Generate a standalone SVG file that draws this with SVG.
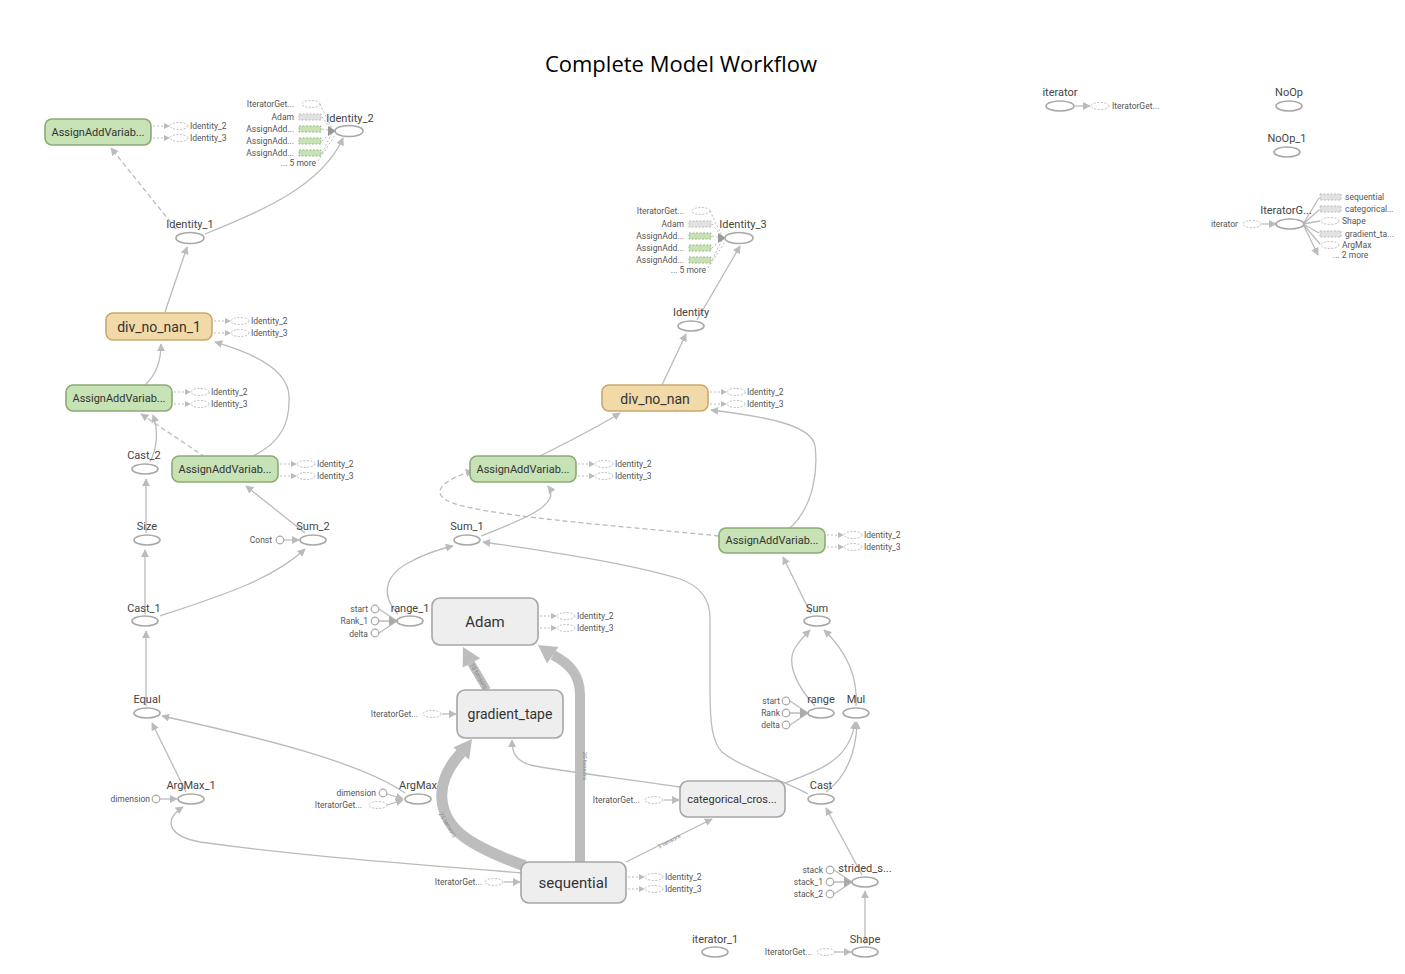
<svg xmlns="http://www.w3.org/2000/svg" xmlns:xlink="http://www.w3.org/1999/xlink" width="1405" height="974" viewBox="0 0 1405 974">
<style>
.t{font-family:Roboto,"Liberation Sans",sans-serif;fill:#444;font-size:11px;text-anchor:middle}
.s{font-family:Roboto,"Liberation Sans",sans-serif;fill:#555;font-size:8.5px}
.r{text-anchor:end}
.el{font-family:Roboto,"Liberation Sans",sans-serif;fill:#888;font-size:6px;text-anchor:middle}
.op{fill:#fff;stroke:#a8a8a8;stroke-width:1.6}
.c{fill:#fff;stroke:#a8a8a8;stroke-width:1.2}
.de{fill:#fff;stroke:#bbb;stroke-width:1;stroke-dasharray:2 1.5}
.e{fill:none;stroke:#bbb;stroke-width:1.3}
.d{stroke-dasharray:5 3}
.dt{fill:none;stroke:#bbb;stroke-width:1;stroke-dasharray:2 2}
.thk{fill:none;stroke:#bdbdbd}
.ah{fill:#bdbdbd}
.g rect{fill:#c7e2b5;stroke:#8caa75;stroke-width:1.6}
.y rect{fill:#f2d9a8;stroke:#c8a96f;stroke-width:1.6}
.m rect{fill:#eeeeee;stroke:#a6a6a6;stroke-width:1.6}
.nt{font-family:Roboto,"Liberation Sans",sans-serif;fill:#333;font-size:11px;text-anchor:middle}
.big{font-size:15px}
.mid{font-size:14px}
.gd{fill:#c7e2b5;stroke:#99b886;stroke-width:1;stroke-dasharray:2 1.5}
.gg{fill:#e2e2e2;stroke:#bbb;stroke-width:1;stroke-dasharray:2 1.5}
</style>
<defs>
<marker id="a" viewBox="0 0 10 10" refX="9" refY="5" markerWidth="8" markerHeight="8" orient="auto" markerUnits="userSpaceOnUse"><path d="M0,0L10,5L0,10z" fill="#bbb"/></marker>
<g id="idann">
<path d="M2,-6H13M2,6H13" class="dt"/>
<path d="M13,-9L19,-6L13,-3zM13,3L19,6L13,9z" fill="#bbb"/>
<ellipse cx="28" cy="-6" rx="9" ry="3.5" class="de"/>
<ellipse cx="28" cy="6" rx="9" ry="3.5" class="de"/>
<text x="39" y="-3" class="s">Identity_2</text>
<text x="39" y="9" class="s">Identity_3</text>
</g>
<g id="inlist">
<text x="-55" y="-24" class="s r">IteratorGet...</text>
<text x="-55" y="-11" class="s r">Adam</text>
<text x="-55" y="1" class="s r">AssignAdd...</text>
<text x="-55" y="13" class="s r">AssignAdd...</text>
<text x="-55" y="25" class="s r">AssignAdd...</text>
<text x="-33" y="35" class="s r">... 5 more</text>
<ellipse cx="-38" cy="-27" rx="9" ry="3.5" class="de"/>
<rect x="-50" y="-17" width="22" height="6" class="gg"/>
<rect x="-50" y="-5" width="22" height="6" class="gd"/>
<rect x="-50" y="7" width="22" height="6" class="gd"/>
<rect x="-50" y="19" width="22" height="6" class="gd"/>
<path d="M-29,-27L-16,0M-27,-14L-16,0M-27,-2L-16,0M-27,10L-16,0M-27,22L-16,0M-31,30L-14,4" class="dt" stroke="#aaa"/>
<path d="M-21,-5L-13,0L-21,5z" fill="#999"/>
</g>
<g id="ins3">
<path d="M-31,-12L-13,0M-31,0L-13,0M-31,12L-13,0" class="e" stroke-width="1.1"/>
<path d="M-21,-5L-13,0L-21,5z" fill="#aaa"/>
<circle cx="-35" cy="-12" r="3.8" class="c"/>
<circle cx="-35" cy="0" r="3.8" class="c"/>
<circle cx="-35" cy="12" r="3.8" class="c"/>
</g>
</defs>

<text x="681" y="72" font-family="'Open Sans','Noto Sans',sans-serif" font-size="22" fill="#000" text-anchor="middle">Complete Model Workflow</text>

<g id="connectors">
<path class="e" marker-end="url(#a)" d="M205,234C260,212 322,186 343,138"/>
<path class="e d" marker-end="url(#a)" d="M176,229L111,148"/>
<path class="e" marker-end="url(#a)" d="M165,312L187,247"/>
<path class="e" marker-end="url(#a)" d="M145,385C156,375 161,360 161,344"/>
<path class="e" marker-end="url(#a)" d="M253,456C282,442 290,422 289,396C288,368 250,352 215,342"/>
<path class="e d" marker-end="url(#a)" d="M205,457L141,414"/>
<path class="e" marker-end="url(#a)" d="M150,462C158,446 158,430 153,415"/>
<path class="e" marker-end="url(#a)" d="M146,533L146,479"/>
<path class="e" marker-end="url(#a)" d="M145,614L145,550"/>
<path class="e" marker-end="url(#a)" d="M160,616C220,596 272,580 305,549"/>
<path class="e" marker-end="url(#a)" d="M284,540L299,540"/>
<path class="e" marker-end="url(#a)" d="M305,533L246,486"/>
<path class="e" marker-end="url(#a)" d="M146,706L146,631"/>
<path class="e" marker-end="url(#a)" d="M186,792L152,723"/>
<path class="e" marker-end="url(#a)" d="M405,793C360,762 262,738 162,716"/>
<path class="e" marker-end="url(#a)" d="M522,873C400,863 300,856 200,842C168,836 163,820 183,807"/>
<path class="e" marker-end="url(#a)" d="M160,799L177,799"/>
<path class="e" marker-end="url(#a)" d="M387,794L403,799"/>
<path class="e" marker-end="url(#a)" d="M387,805L403,800"/>
<path class="e" marker-end="url(#a)" d="M398,614C381,596 384,576 408,563C424,554 440,549 453,546"/>
<path class="e" marker-end="url(#a)" d="M481,536C522,520 562,505 548,486"/>
<path class="e d" marker-end="url(#a)" d="M719,536C620,526 470,515 446,500C430,490 448,478 473,471"/>
<path class="e" marker-end="url(#a)" d="M808,794C780,779 740,767 722,752C712,742 710,722 710,690L710,618C710,598 700,586 680,579C620,561 530,549 483,542"/>
<path class="e" marker-end="url(#a)" d="M540,456C570,441 600,426 620,413"/>
<path class="e" marker-end="url(#a)" d="M790,528C814,506 818,470 815,446C812,424 760,416 711,410"/>
<path class="e" marker-end="url(#a)" d="M662,385L686,334"/>
<path class="e" marker-end="url(#a)" d="M697,320L740,246"/>
<path class="e" marker-end="url(#a)" d="M811,614L783,557"/>
<path class="e" marker-end="url(#a)" d="M815,706C800,690 785,665 795,648C800,640 805,635 810,630"/>
<path class="e" marker-end="url(#a)" d="M856,706C858,680 850,655 824,630"/>
<path class="e" marker-end="url(#a)" d="M826,792C842,780 856,760 857,722"/>
<path class="e" marker-end="url(#a)" d="M785,783C820,770 850,760 855,722"/>
<path class="e" marker-end="url(#a)" d="M862,875L826,808"/>
<path class="e" marker-end="url(#a)" d="M865,944L865,891"/>
<path class="e" marker-end="url(#a)" d="M834,952L851,952"/>
<path class="thk" stroke-width="8" d="M487,690L471,663"/>
<path class="ah" d="M463,647L480.3,658.2L462.7,667.6z"/>
<path class="thk" stroke-width="10" d="M580,862L580,695C580,675 570,664 553,655"/>
<path class="ah" d="M538,645L558.4,647.1L547,663.5z"/>
<path class="thk" stroke-width="11" d="M525,866C470,846 445,830 442,800C440,780 450,765 461,753"/>
<path class="ah" d="M472,739L469.2,759.4L453.2,747.4z"/>
<path class="e" marker-end="url(#a)" d="M626,862L712,819"/>
<path class="e" marker-end="url(#a)" d="M680,787C620,778 560,771 530,765C515,760 512,752 512,740"/>
<path class="e" marker-end="url(#a)" d="M442,714L456,714"/>
<path class="e" marker-end="url(#a)" d="M664,800L679,800"/>
<path class="e" marker-end="url(#a)" d="M504,882L520,882"/>
<path class="e" marker-end="url(#a)" d="M1075,106L1090,106"/>
<path class="e" marker-end="url(#a)" d="M1262,224L1276,224"/>
<path class="e" marker-end="url(#a)" d="M1303,224L1319,198M1303,224L1319,210M1303,224L1320,221M1303,224L1319,233M1303,224L1320,244M1303,224L1318,255"/>
<text class="el" transform="translate(477,677) rotate(60)">10 tensors</text>
<text class="el" transform="translate(583,766) rotate(90)">20 tensors</text>
<text class="el" transform="translate(446,826) rotate(58)">25 tensors</text>
<text class="el" transform="translate(670,843) rotate(-27)">3 tensors</text>
</g>

<g id="AssignAddVariable_a" class="g"><rect x="45" y="119" width="106" height="26" rx="7"/><text x="98" y="136" class="nt">AssignAddVariab...</text><use href="#idann" x="151" y="132"/></g>
<g id="Identity_2"><use href="#inlist" x="349" y="131"/><ellipse cx="349" cy="131" rx="14" ry="5.5" class="op"/><text x="350" y="122" class="t">Identity_2</text></g>
<g id="Identity_1"><ellipse cx="190" cy="238" rx="14" ry="5.5" class="op"/><text x="190" y="228" class="t">Identity_1</text></g>
<g id="div_no_nan_1" class="y"><rect x="106" y="313" width="106" height="27" rx="7"/><text x="159" y="332" class="nt mid">div_no_nan_1</text><use href="#idann" x="212" y="327"/></g>
<g id="AssignAddVariable_b" class="g"><rect x="66" y="385" width="106" height="26" rx="7"/><text x="119" y="402" class="nt">AssignAddVariab...</text><use href="#idann" x="172" y="398"/></g>
<g id="AssignAddVariable_c" class="g"><rect x="172" y="456" width="106" height="26" rx="7"/><text x="225" y="473" class="nt">AssignAddVariab...</text><use href="#idann" x="278" y="470"/></g>
<g id="Cast_2"><ellipse cx="145" cy="469" rx="13" ry="5" class="op"/><text x="144" y="459" class="t">Cast_2</text></g>
<g id="Size"><ellipse cx="147" cy="540" rx="13" ry="5" class="op"/><text x="147" y="530" class="t">Size</text></g>
<g id="Sum_2"><ellipse cx="313" cy="540" rx="13" ry="5" class="op"/><text x="313" y="530" class="t">Sum_2</text><circle cx="280" cy="540" r="3.8" class="c"/><text x="272" y="543" class="s r">Const</text></g>
<g id="Cast_1"><ellipse cx="145" cy="621" rx="13" ry="5" class="op"/><text x="144" y="612" class="t">Cast_1</text></g>
<g id="Equal"><ellipse cx="147" cy="713" rx="13" ry="5" class="op"/><text x="147" y="703" class="t">Equal</text></g>
<g id="ArgMax_1"><ellipse cx="191" cy="799" rx="13" ry="5" class="op"/><text x="191" y="789" class="t">ArgMax_1</text><circle cx="156" cy="799" r="3.8" class="c"/><text x="150" y="802" class="s r">dimension</text></g>
<g id="ArgMax"><ellipse cx="418" cy="799" rx="13" ry="5" class="op"/><text x="418" y="789" class="t">ArgMax</text><circle cx="383" cy="793" r="3.8" class="c"/><text x="376" y="796" class="s r">dimension</text><ellipse cx="378" cy="805" rx="9" ry="3.5" class="de"/><text x="362" y="808" class="s r">IteratorGet...</text></g>
<g id="range_1"><use href="#ins3" x="410" y="621"/><ellipse cx="410" cy="621" rx="13" ry="5" class="op"/><text x="410" y="612" class="t">range_1</text><text x="368" y="612" class="s r">start</text><text x="368" y="624" class="s r">Rank_1</text><text x="368" y="637" class="s r">delta</text></g>
<g id="Sum_1"><ellipse cx="467" cy="540" rx="13" ry="5" class="op"/><text x="467" y="530" class="t">Sum_1</text></g>
<g id="AssignAddVariable_d" class="g"><rect x="470" y="456" width="106" height="26" rx="7"/><text x="523" y="473" class="nt">AssignAddVariab...</text><use href="#idann" x="576" y="470"/></g>
<g id="div_no_nan" class="y"><rect x="602" y="385" width="106" height="26" rx="7"/><text x="655" y="404" class="nt mid">div_no_nan</text><use href="#idann" x="708" y="398"/></g>
<g id="Identity"><ellipse cx="691" cy="326" rx="13" ry="5" class="op"/><text x="691" y="316" class="t">Identity</text></g>
<g id="Identity_3"><use href="#inlist" x="739" y="238"/><ellipse cx="739" cy="238" rx="14" ry="5.5" class="op"/><text x="743" y="228" class="t">Identity_3</text></g>
<g id="AssignAddVariable_e" class="g"><rect x="719" y="528" width="106" height="25" rx="7"/><text x="772" y="544" class="nt">AssignAddVariab...</text><use href="#idann" x="825" y="541"/></g>
<g id="Sum"><ellipse cx="817" cy="621" rx="13" ry="5" class="op"/><text x="817" y="612" class="t">Sum</text></g>
<g id="range"><use href="#ins3" x="821" y="713"/><ellipse cx="821" cy="713" rx="13" ry="5" class="op"/><text x="821" y="703" class="t">range</text><text x="780" y="704" class="s r">start</text><text x="780" y="716" class="s r">Rank</text><text x="780" y="728" class="s r">delta</text></g>
<g id="Mul"><ellipse cx="856" cy="713" rx="13" ry="5" class="op"/><text x="856" y="703" class="t">Mul</text></g>
<g id="Cast"><ellipse cx="821" cy="799" rx="13" ry="5" class="op"/><text x="821" y="789" class="t">Cast</text></g>
<g id="strided_slice"><use href="#ins3" x="865" y="882"/><ellipse cx="865" cy="882" rx="13" ry="5" class="op"/><text x="865" y="872" class="t">strided_s...</text><text x="823" y="873" class="s r">stack</text><text x="823" y="885" class="s r">stack_1</text><text x="823" y="897" class="s r">stack_2</text></g>
<g id="Shape"><ellipse cx="865" cy="952" rx="13" ry="5" class="op"/><text x="865" y="943" class="t">Shape</text><ellipse cx="826" cy="952" rx="9" ry="3.5" class="de"/><text x="812" y="955" class="s r">IteratorGet...</text></g>
<g id="iterator_1"><ellipse cx="715" cy="952" rx="13" ry="5" class="op"/><text x="715" y="943" class="t">iterator_1</text></g>
<g id="Adam" class="m"><rect x="432" y="598" width="106" height="47" rx="8"/><text x="485" y="627" class="nt big">Adam</text><use href="#idann" x="538" y="622"/></g>
<g id="gradient_tape" class="m"><rect x="457" y="690" width="106" height="48" rx="8"/><text x="510" y="719" class="nt mid">gradient_tape</text><ellipse cx="432" cy="714" rx="9" ry="3.5" class="de"/><text x="418" y="717" class="s r">IteratorGet...</text></g>
<g id="categorical_crossentropy" class="m"><rect x="680" y="781" width="105" height="36" rx="8"/><text x="732" y="803" class="nt">categorical_cros...</text><ellipse cx="654" cy="800" rx="9" ry="3.5" class="de"/><text x="640" y="803" class="s r">IteratorGet...</text></g>
<g id="sequential" class="m"><rect x="521" y="862" width="105" height="41" rx="8"/><text x="573" y="888" class="nt big">sequential</text><ellipse cx="494" cy="882" rx="9" ry="3.5" class="de"/><text x="482" y="885" class="s r">IteratorGet...</text><use href="#idann" x="626" y="883"/></g>
<g id="iterator"><ellipse cx="1060" cy="106" rx="14" ry="5" class="op"/><text x="1060" y="96" class="t">iterator</text><ellipse cx="1100" cy="106" rx="9" ry="3.5" class="de"/><text x="1112" y="109" class="s">IteratorGet...</text></g>
<g id="NoOp"><ellipse cx="1289" cy="106" rx="13" ry="5" class="op"/><text x="1289" y="96" class="t">NoOp</text></g>
<g id="NoOp_1"><ellipse cx="1287" cy="152" rx="13" ry="5" class="op"/><text x="1287" y="142" class="t">NoOp_1</text></g>
<g id="IteratorGetNext"><ellipse cx="1290" cy="224" rx="14" ry="5" class="op"/><text x="1286" y="214" class="t">IteratorG...</text><ellipse cx="1252" cy="224" rx="9" ry="3.5" class="de"/><text x="1238" y="227" class="s r">iterator</text>
<rect x="1320" y="194" width="21" height="6" class="gg"/><text x="1345" y="200" class="s">sequential</text>
<rect x="1320" y="206" width="21" height="6" class="gg"/><text x="1345" y="212" class="s">categorical...</text>
<ellipse cx="1330" cy="221" rx="9" ry="3.5" class="de"/><text x="1342" y="224" class="s">Shape</text>
<rect x="1320" y="231" width="21" height="6" class="gg"/><text x="1345" y="237" class="s">gradient_ta...</text>
<ellipse cx="1330" cy="245" rx="9" ry="3.5" class="de"/><text x="1342" y="248" class="s">ArgMax</text>
<text x="1333" y="258" class="s">... 2 more</text></g>
</svg>
